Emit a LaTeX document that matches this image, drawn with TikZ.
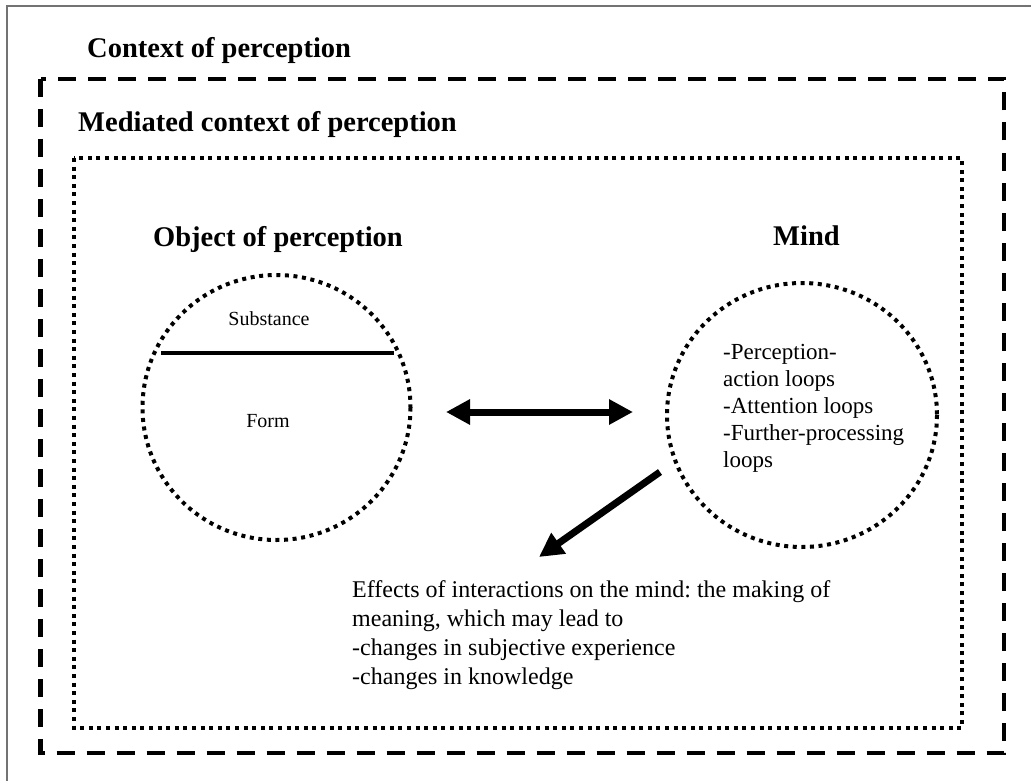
\documentclass[tikz,border=0pt]{standalone}
\usepackage{fontspec}
\setmainfont{Liberation Serif}
\usetikzlibrary{arrows.meta}
\AtBeginDocument{\frenchspacing}
\begin{document}
\begin{tikzpicture}[x=1pt,y=-1pt,
  title/.style={font=\fontsize{28.5}{34}\selectfont\bfseries, anchor=base west, inner sep=0},
  small/.style={font=\fontsize{20}{24}\selectfont, anchor=base, inner sep=0},
  body/.style={align=left, anchor=base west, inner sep=0},
  dashbox/.style={line width=4.5, dash pattern=on 18 off 12},
  dotbox/.style={line width=4, dash pattern=on 4 off 4.6},
  bigarrow/.style={line width=7, -{Triangle[length=24pt,width=24pt]}},
  dblarrow/.style={line width=7, {Triangle[length=24pt,width=24pt]}-{Triangle[length=24pt,width=24pt]}}
]
\useasboundingbox (0,0) rectangle (1031,781);
\fill[white] (0,0) rectangle (1031,781);
\draw[black!55, line width=1.2] (7,781) -- (7,6) -- (1031,6);

% context frames
\draw[dashbox] (40.5,79) rectangle (1004,753);
\draw[dotbox] (74,158) rectangle (962,728);

% titles
\node[title] (ctx) at (87,58) {Context of perception};
\node[title] (med) at (78,132) {Mediated context of perception};
\node[title] (objt) at (153,246) {Object of perception};
\node[title] (mindt) at (773,245) {Mind};

% object of perception
\coordinate (objc) at (276.5,407.5);
\draw[dotbox] (objc) ellipse [x radius=134, y radius=132.5];
\coordinate (divl) at (161,353);
\coordinate (divr) at (394,353);
\draw[line width=4.5] (divl) -- (divr);
\node[small] (subst) at (269,325) {Substance};
\node[small] (form) at (268,427) {Form};

% mind
\coordinate (mindc) at (802,415);
\draw[dotbox] (mindc) ellipse [x radius=135, y radius=132];
\node[body, font=\fontsize{23}{27}\selectfont] (loops) at (723,467)
  {-Perception-\\action loops\\-Attention loops\\-Further-processing\\loops};

% arrows
\coordinate (a1) at (446,412);
\coordinate (a2) at (633,412);
\draw[dblarrow] (a1) -- (a2);
\coordinate (b1) at (660,472);
\coordinate (b2) at (539,557);
\draw[bigarrow] (b1) -- (b2);

% effects text
\node[body, font=\fontsize{24}{29}\selectfont] (effects) at (352,684)
  {Effects of interactions on the mind: the making of\\meaning, which may lead to\\-changes in subjective experience\\-changes in knowledge};
\end{tikzpicture}
\end{document}
